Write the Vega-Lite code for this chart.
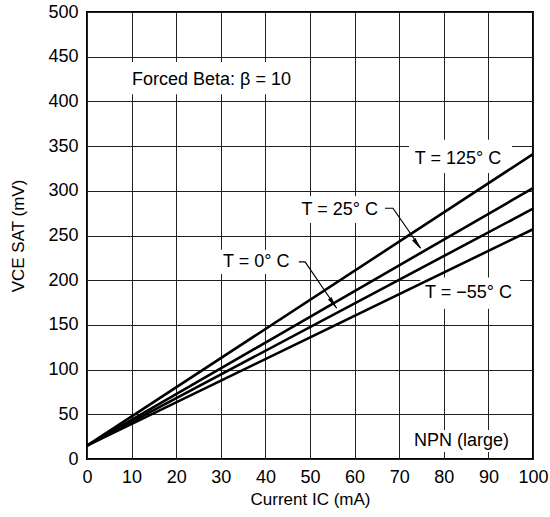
{
  "$schema": "https://vega.github.io/schema/vega-lite/v6.json",
  "width": 446,
  "height": 447,
  "autosize": "none",
  "padding": {"left": 87, "top": 12, "right": 17, "bottom": 58},
  "background": "white",
  "config": {
    "view": {"stroke": "black", "strokeWidth": 2},
    "font": "Liberation Sans",
    "axis": {
      "grid": true,
      "gridColor": "#222",
      "gridWidth": 1,
      "domain": false,
      "ticks": false,
      "labelFlush": false,
      "labelOverlap": false,
      "labelFont": "Liberation Sans",
      "labelFontSize": 18,
      "labelColor": "black",
      "titleFont": "Liberation Sans",
      "titleFontSize": 17,
      "titleFontWeight": "normal",
      "titleColor": "black"
    }
  },
  "datasets": {
    "curves": [
      {"series": "125", "ic": 0, "v": 15},
      {"series": "125", "ic": 100, "v": 341},
      {"series": "25", "ic": 0, "v": 15},
      {"series": "25", "ic": 100, "v": 303},
      {"series": "0", "ic": 0, "v": 15},
      {"series": "0", "ic": 100, "v": 280},
      {"series": "-55", "ic": 0, "v": 15},
      {"series": "-55", "ic": 100, "v": 257}
    ],
    "boxes": [
      {"x": 9.2, "x2": 47.5, "y": 444, "y2": 408},
      {"x": 72.2, "x2": 95.3, "y": 357, "y2": 320},
      {"x": 46.5, "x2": 68.5, "y": 294, "y2": 264},
      {"x": 29.0, "x2": 49.5, "y": 234, "y2": 207},
      {"x": 74.7, "x2": 97.1, "y": 203, "y2": 168},
      {"x": 71.3, "x2": 96.0, "y": 32.4, "y2": 7.8}
    ],
    "leaders": [
      {"id": "a25", "o": 1, "x": 66.8, "y": 280.5},
      {"id": "a25", "o": 2, "x": 68.6, "y": 280.5},
      {"id": "a25", "o": 3, "x": 74.8, "y": 236},
      {"id": "a0", "o": 1, "x": 47.5, "y": 220.4},
      {"id": "a0", "o": 2, "x": 48.9, "y": 220.4},
      {"id": "a0", "o": 3, "x": 56.0, "y": 168.6}
    ],
    "heads": [
      {"x": 74.06, "y": 240.2, "angle": 145},
      {"x": 55.2, "y": 174.1, "angle": 145.6}
    ],
    "labels": [
      {"x": 10.1, "y": 424, "text": "Forced Beta: β = 10"},
      {"x": 73.5, "y": 335.6, "text": "T = 125° C"},
      {"x": 48.1, "y": 278.5, "text": "T = 25° C"},
      {"x": 30.5, "y": 220.4, "text": "T = 0° C"},
      {"x": 75.8, "y": 185.7, "text": "T = −55° C"},
      {"x": 73.3, "y": 20.5, "text": "NPN (large)"}
    ]
  },
  "layer": [
    {
      "data": {"name": "boxes"},
      "mark": {"type": "rect", "fill": "white", "stroke": null},
      "encoding": {
        "x": {"field": "x", "type": "quantitative", "scale": {"domain": [0, 100], "nice": false},
          "axis": {"values": [0,10,20,30,40,50,60,70,80,90,100], "title": "Current IC (mA)", "labelPadding": 9, "titlePadding": 5}},
        "x2": {"field": "x2"},
        "y": {"field": "y", "type": "quantitative", "scale": {"domain": [0, 500], "nice": false},
          "axis": {"values": [0,50,100,150,200,250,300,350,400,450,500], "title": "VCE SAT (mV)", "labelPadding": 9, "titlePadding": 20}},
        "y2": {"field": "y2"}
      }
    },
    {
      "data": {"name": "curves"},
      "mark": {"type": "line", "color": "black", "strokeWidth": 2.6},
      "encoding": {
        "x": {"field": "ic", "type": "quantitative"},
        "y": {"field": "v", "type": "quantitative"},
        "detail": {"field": "series"}
      }
    },
    {
      "data": {"name": "leaders"},
      "mark": {"type": "line", "color": "black", "strokeWidth": 1.2},
      "encoding": {
        "x": {"field": "x", "type": "quantitative"},
        "y": {"field": "y", "type": "quantitative"},
        "detail": {"field": "id"},
        "order": {"field": "o"}
      }
    },
    {
      "data": {"name": "heads"},
      "mark": {"type": "point", "shape": "M0,-1L0.35,1L-0.35,1Z", "filled": true, "color": "black", "opacity": 1, "size": 150},
      "encoding": {
        "x": {"field": "x", "type": "quantitative"},
        "y": {"field": "y", "type": "quantitative"},
        "angle": {"field": "angle", "type": "quantitative", "scale": null}
      }
    },
    {
      "data": {"name": "labels"},
      "mark": {"type": "text", "align": "left", "baseline": "middle", "fontSize": 18, "font": "Liberation Sans", "color": "black"},
      "encoding": {
        "x": {"field": "x", "type": "quantitative"},
        "y": {"field": "y", "type": "quantitative"},
        "text": {"field": "text"}
      }
    }
  ]
}
